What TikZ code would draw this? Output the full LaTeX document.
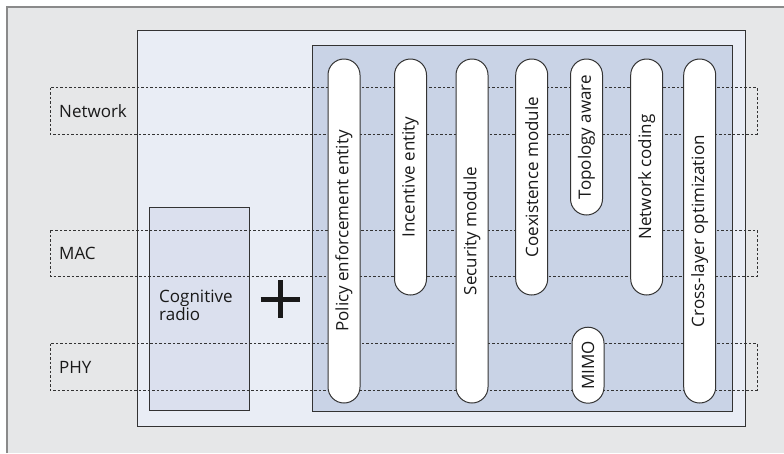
\documentclass[tikz,border=0pt]{standalone}
\usepackage{fontspec}
\setmainfont{Open Sans}
\definecolor{outerfill}{HTML}{E6E7E8}
\definecolor{outerline}{HTML}{8A8A8A}
\definecolor{innerfill}{HTML}{E9EDF5}
\definecolor{darkfill}{HTML}{C9D3E6}
\definecolor{crfill}{HTML}{DBE0EE}
\definecolor{edge}{HTML}{333333}
\tikzset{
  boxline/.style={draw=edge, line width=1pt},
  layerbox/.style={draw=edge, line width=0.8pt, dash pattern=on 2.5pt off 2pt},
  layerlabel/.style={anchor=base west, inner sep=0pt, font=\fontsize{17}{19}\selectfont, text=black!90},
  pill/.style={draw=edge, line width=1pt, fill=white, rectangle, rounded corners=16pt,
    minimum height=32pt, inner sep=0pt, rotate=90, font=\fontsize{17}{19}\selectfont, text=black!90},
  plusbar/.style={line width=5pt, draw=black!90}
}
\begin{document}
\begin{tikzpicture}[x=1pt,y=-1pt]
\useasboundingbox (0,0) rectangle (784,453);
% outer panel
\fill[outerfill] (7,7) rectangle (784,453);
\draw[outerline, line width=1.6pt] (7,453) -- (7,7) -- (784,7);
% inner box
\draw[boxline, fill=innerfill] (137,30) rectangle (745,426);
% dark box
\draw[boxline, fill=darkfill] (312,45.5) rectangle (732,411);
% cognitive radio box
\draw[boxline, fill=crfill] (149,207) rectangle (249,410);
\node[anchor=north west, align=left, inner sep=0pt, font=\fontsize{17}{16.5}\selectfont, text=black!90] (cr) at (159,290) {Cognitive\\radio};
% plus
\coordinate (plus) at (280,299);
\draw[plusbar] ([xshift=-19.5pt]plus) -- ([xshift=19.5pt]plus);
\draw[plusbar] ([yshift=19pt]plus) -- ([yshift=-19pt]plus);
% layer boxes
\draw[layerbox] (50,87.7) rectangle (757,134);
\draw[layerbox] (50,230) rectangle (757,276);
\draw[layerbox] (50,343.7) rectangle (757,390);
\node[layerlabel] (net) at (59,117) {Network};
\node[layerlabel] (mac) at (59,259.3) {MAC};
\node[layerlabel] (phy) at (59,373.3) {PHY};
% pills
\node[pill, minimum width=344pt] (p1) at (344,231) {Policy enforcement entity};
\node[pill, minimum width=236pt] (p2) at (410.5,177) {Incentive entity};
\node[pill, minimum width=344pt] (p3) at (472,231) {Security module};
\node[pill, minimum width=236pt] (p4) at (531.7,177) {Coexistence module};
\node[pill, minimum width=156pt] (p5) at (586.5,137) {Topology aware};
\node[pill, minimum width=236pt] (p6) at (646.7,177) {Network coding};
\node[pill, minimum width=344pt] (p7) at (699.7,231) {Cross-layer optimization};
\node[pill, minimum width=76pt] (p8) at (588,365.2) {MIMO};
\end{tikzpicture}
\end{document}
